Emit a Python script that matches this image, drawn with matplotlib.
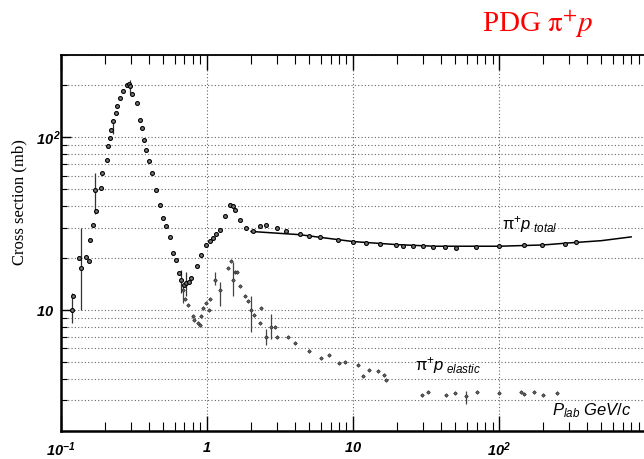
import numpy as np
import matplotlib
matplotlib.use("Agg")
import matplotlib.pyplot as plt
from matplotlib.ticker import LogLocator, FixedLocator, FixedFormatter, NullFormatter

plt.rcParams['mathtext.fontset'] = 'custom'
plt.rcParams['mathtext.rm'] = 'Liberation Sans'
plt.rcParams['mathtext.it'] = 'Liberation Sans:italic'
plt.rcParams['mathtext.bf'] = 'Liberation Sans:italic:bold'

# pi+ p total cross section (P_lab in GeV/c, sigma in mb)
tot_p = [0.119, 0.121, 0.133, 0.138, 0.149, 0.155, 0.159, 0.166, 0.170, 0.173,
         0.189, 0.192, 0.205, 0.210, 0.215, 0.221, 0.227, 0.237, 0.242, 0.252,
         0.266, 0.281, 0.29, 0.296, 0.308, 0.332, 0.346, 0.358, 0.368, 0.384,
         0.400, 0.422, 0.450, 0.474, 0.499, 0.527, 0.556, 0.585, 0.617, 0.643,
         0.66, 0.69, 0.72, 0.75, 0.78, 0.85, 0.91, 0.99, 1.04, 1.10,
         1.16, 1.22, 1.32, 1.43, 1.50, 1.55, 1.67, 1.86, 2.06, 2.3,
         2.55, 2.99, 3.48, 4.31, 5.0, 5.96, 7.9, 10.0, 12.3, 15.3,
         19.8, 21.9, 25.8, 30.2, 35.2, 42.5, 50.8, 69.6, 100, 148,
         197, 280, 336]
tot_s = [10.0, 12.0, 20.0, 17.5, 20.4, 19.1, 25.5, 31.2, 49.8, 37.2,
         50.8, 62.2, 74.2, 88.7, 99.2, 110.8, 123.8, 138.6, 151, 169,
         185, 200, 205, 198, 179, 158, 126.6, 113, 97, 84.9,
         72.6, 62.2, 49.8, 40.7, 34, 30.5, 26.4, 21.4, 19.5, 16.4,
         14.9, 14.0, 14.3, 14.6, 15.3, 17.9, 20.9, 23.9, 25, 26.1,
         27.5, 29.2, 34.9, 40.7, 40.0, 38.1, 33.3, 29.8, 28.5, 30.7,
         31.2, 29.8, 28.5, 27.7, 27.0, 26.5, 25.3, 24.9, 24.4, 24.2,
         23.9, 23.5, 23.4, 23.4, 23.1, 23.2, 22.9, 23.2, 23.4, 23.7,
         23.7, 24.2, 24.6]

# total points with visible error bars
tot_eb_p = [0.119, 0.138, 0.170, 0.227, 0.296, 0.66, 0.72]
tot_eb_s = [10.0, 17.5, 49.8, 118, 195, 14.9, 14.3]
tot_eb_lo = [8.4, 10.0, 36.0, 105, 180, 12.5, 12.0]
tot_eb_hi = [12.6, 30.0, 62.0, 128, 215, 17.0, 16.5]

# fit curve through the high energy total data
fit_p = [2.0, 4.3, 10, 20, 36, 100, 200, 290, 500, 800]
fit_s = [28.5, 27.3, 24.9, 23.9, 23.4, 23.4, 23.8, 24.4, 25.2, 26.5]

# pi+ p elastic cross section
el_p = [0.683, 0.71, 0.74, 0.80, 0.82, 0.87, 0.89, 0.91, 0.94, 0.99,
        1.03, 1.04, 1.13, 1.22, 1.39, 1.45, 1.51, 1.55, 1.60, 1.67,
        1.81, 1.90, 2.01, 2.11, 2.30, 2.34, 2.55, 2.76, 2.9, 2.99,
        3.58, 3.98, 4.98, 6.0, 6.8, 8.0, 8.8, 10.8, 11.7, 12.9,
        14.9, 16.2, 16.8, 29.4, 32.4, 43.5, 49.6, 59, 70.4, 100,
        140, 147, 173, 200, 250]
el_s = [13.1, 11.5, 10.7, 9.2, 8.8, 8.4, 8.2, 9.2, 10.3, 11.0,
        10.0, 11.5, 14.9, 13.1, 17.5, 19.1, 14.9, 16.7, 16.7, 13.7,
        12.0, 11.2, 10.0, 9.4, 8.4, 10.3, 7.0, 8.0, 8.0, 7.0,
        7.0, 6.4, 5.8, 5.3, 5.5, 4.9, 5.0, 4.8, 4.17, 4.5,
        4.45, 4.2, 3.94, 3.2, 3.34, 3.2, 3.3, 3.17, 3.34, 3.3,
        3.34, 3.25, 3.34, 3.2, 3.3]

el_eb_p = [0.683, 1.13, 1.22, 1.51, 2.01, 2.55, 2.76, 59]
el_eb_s = [13.1, 14.9, 13.1, 14.9, 10.0, 7.0, 8.0, 3.17]
el_eb_lo = [11.0, 14.0, 10.5, 12.0, 7.5, 6.3, 6.8, 2.85]
el_eb_hi = [14.0, 16.5, 14.5, 19.0, 12.0, 7.8, 9.5, 3.4]

x_ticks = [0.1, 1, 10, 100, 1000]
x_labels = [r'$\mathbf{10^{-1}}$', r'$\mathbf{1}$', r'$\mathbf{10}$', r'$\mathbf{10^{2}}$', '']
y_ticks = [10, 100]
y_labels = [r'$\mathbf{10}$', r'$\mathbf{10^{\,2}}$']

fig = plt.figure(figsize=(6.44, 4.59), dpi=100)
ax = fig.add_axes([61 / 644, 1 - 430.6 / 459, 584.3 / 644, 375.6 / 459])
ax.set_xscale('log')
ax.set_yscale('log')
ax.set_xlim(0.1, 1000)
ax.set_ylim(2, 300)

# grid: all y ticks, only decades in x
grid_kw = dict(color='#666666', linestyle=(0, (1, 2)), linewidth=0.8)
ax.yaxis.grid(True, which='both', **grid_kw)
ax.xaxis.grid(True, which='major', **grid_kw)
ax.set_axisbelow(True)

# total
ax.plot(fit_p, fit_s, '-', color='black', lw=1.1, zorder=3)
p = np.array(tot_eb_p)
s = np.array(tot_eb_s)
ax.errorbar(p, s, yerr=[s - np.array(tot_eb_lo), np.array(tot_eb_hi) - s],
            fmt='none', ecolor='#333333', elinewidth=0.9, capsize=0, zorder=3)
ax.plot(tot_p, tot_s, 'o', ms=2.8, mec='black', mfc='#777777', mew=0.8, zorder=4)

# elastic
p = np.array(el_eb_p)
s = np.array(el_eb_s)
ax.errorbar(p, s, yerr=[s - np.array(el_eb_lo), np.array(el_eb_hi) - s],
            fmt='none', ecolor='#444444', elinewidth=0.9, capsize=0, zorder=3)
ax.plot(el_p, el_s, 'D', ms=1.8, mec='#333333', mfc='#666666', mew=0.6, zorder=4)

# ticks
ax.xaxis.set_major_locator(FixedLocator(x_ticks))
ax.xaxis.set_major_formatter(FixedFormatter(x_labels))
ax.xaxis.set_minor_locator(LogLocator(base=10, subs=np.arange(2, 10), numticks=20))
ax.xaxis.set_minor_formatter(NullFormatter())
ax.yaxis.set_major_locator(FixedLocator(y_ticks))
ax.yaxis.set_major_formatter(FixedFormatter(y_labels))
ax.yaxis.set_minor_locator(LogLocator(base=10, subs=np.arange(2, 10), numticks=20))
ax.yaxis.set_minor_formatter(NullFormatter())

ax.tick_params(axis='x', which='major', direction='in', length=10.8, width=1.0,
               top=True, bottom=True, labelsize=10.5, pad=7)
ax.tick_params(axis='x', which='minor', direction='in', length=6.5, width=0.8,
               top=True, bottom=True)
ax.tick_params(axis='y', which='major', direction='in', length=7, width=1.0,
               left=True, right=False, labelsize=10.5, pad=18)
ax.tick_params(axis='y', which='minor', direction='in', length=4.5, width=0.8,
               left=True, right=False)
for lbl in ax.get_yticklabels():
    lbl.set_horizontalalignment('left')

for side in ['left', 'bottom']:
    ax.spines[side].set_linewidth(1.8)
ax.spines['top'].set_linewidth(1.3)
ax.spines['right'].set_visible(False)

# labels
fig.text(0.0295, 1 - 202.5 / 459, 'Cross section (mb)', rotation=90,
         ha='center', va='center', fontsize=12, family='Liberation Serif')
fig.text(481.7 / 644, 1 - 32.7 / 459, r'PDG $\mathrm{\pi}^{+}\mathit{p}$', color='red',
         fontsize=21, family='Liberation Serif', math_fontfamily='stix',
         ha='left', va='baseline')

ax.text(104, 29.2, r'$\mathrm{\pi}^{+}\mathit{p}_{\ \mathit{total}}$', fontsize=12,
        ha='left', va='baseline')
ax.text(26.5, 4.49, r'$\mathrm{\pi}^{+}\mathit{p}_{\ \mathit{elastic}}$', fontsize=12,
        ha='left', va='baseline')
ax.text(229, 2.46, r'$\mathit{P}_{\mathit{lab}}\ \mathit{GeV/c}$', fontsize=12,
        ha='left', va='baseline')

fig.savefig('out.png', dpi=100)
